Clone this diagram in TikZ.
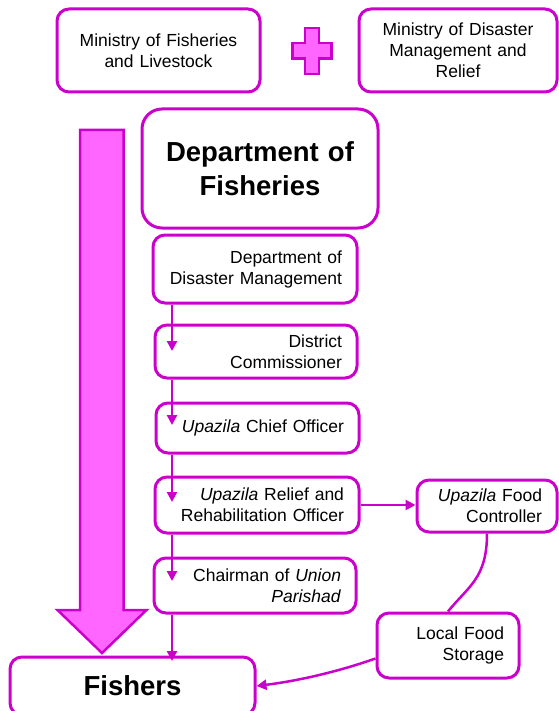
\documentclass[tikz,border=0pt]{standalone}
\usepackage{fontspec}
\setmainfont{Liberation Sans}
\usetikzlibrary{arrows.meta}
\definecolor{orgline}{HTML}{CC00CC}
\definecolor{orgfill}{HTML}{FF66FF}
\tikzset{
  officebox/.style={rectangle, draw=orgline, line width=3pt, rounded corners=12pt, align=right, inner xsep=15pt, inner ysep=4pt, font=\fontsize{17.5}{21}\selectfont},
  officetitle/.style={officebox, align=center, rounded corners=20pt, font=\bfseries\fontsize{27.5}{33.5}\selectfont},
  flow/.style={draw=orgline, line width=2.5pt, -{Triangle[length=10pt,width=10pt]}},
  link/.style={draw=orgline, line width=2.5pt},
  bigshape/.style={draw=orgline, fill=orgfill, line width=2.5pt, line join=miter}
}
\newcommand{\officebox}[5] {\node at (#1) (#2) [officebox, text width=#3pt, minimum height=#4pt] {#5};}
\newcommand{\officemain}[5] {\node at (#1) (#2) [officebox, align=center, text width=#3pt, minimum height=#4pt] {#5};}
\newcommand{\officeflow}[2] {\draw [flow] (#1) -- (#2);}
\begin{document}
\begin{tikzpicture}[x=1pt, y=-1pt]
\useasboundingbox (0,0) rectangle (558,711);

\officemain {158.5,50.5}{minfish}{173}{83}{Ministry of Fisheries\\and Livestock}
\officemain {458,50.5}{mindis}{168}{83}{Ministry of Disaster\\Management and\\Relief}
\draw [bigshape] (305,28) -- (319,28) -- (319,43) -- (331.5,43) -- (331.5,58.5) -- (319,58.5) -- (319,74) -- (305,74) -- (305,58.5) -- (292.5,58.5) -- (292.5,43) -- (305,43) -- cycle;

\node at (260,168.5) (dof) [officetitle, text width=206pt, minimum height=119pt] {Department of\\Fisheries};
\draw [bigshape] (80,130) -- (123.5,130) -- (123.5,610) -- (146.5,610) -- (102,653) -- (57.5,610) -- (80,610) -- cycle;

\officebox {255,269}{ddm}{174}{68}{Department of\\Disaster Management}
\officebox {256,351.5}{dc}{172}{53}{District\\Commissioner}
\officebox {257.5,428}{uco}{173}{50}{\textit{Upazila} Chief Officer}
\officebox {257,505}{urro}{174}{56}{\textit{Upazila} Relief and\\Rehabilitation Officer}
\officebox {487,506}{ufc}{110}{52}{\textit{Upazila} Food\\Controller}
\officebox {255,585.5}{cup}{172}{55}{Chairman of \textit{Union}\\\textit{Parishad}}
\officebox {448,645.5}{lfs}{112}{65}{Local Food\\Storage}
\node at (132.5,686) (fishers) [officetitle, rounded corners=12pt, text width=215pt, minimum height=58pt] {Fishers};

\coordinate (dc1) at (172,351);
\coordinate (uco1) at (172,425);
\coordinate (urro1) at (172,502);
\coordinate (cup1) at (172,581);
\coordinate (fishers1) at (172,661);

\officeflow {ddm.south -| dc1}{dc1}
\officeflow {dc.south -| uco1}{uco1}
\officeflow {uco.south -| urro1}{urro1}
\officeflow {urro.south -| cup1}{cup1}
\officeflow {cup.south -| fishers1}{fishers1}
\officeflow {urro.east}{urro.east -| ufc.west}
\draw [link] (ufc.south) .. controls +(0,45) and +(20,-25) .. (lfs.north);
\draw [flow] ([yshift=-13pt]lfs.west) .. controls +(-40,14) and +(40,-5) .. (fishers.east);
\end{tikzpicture}
\end{document}
